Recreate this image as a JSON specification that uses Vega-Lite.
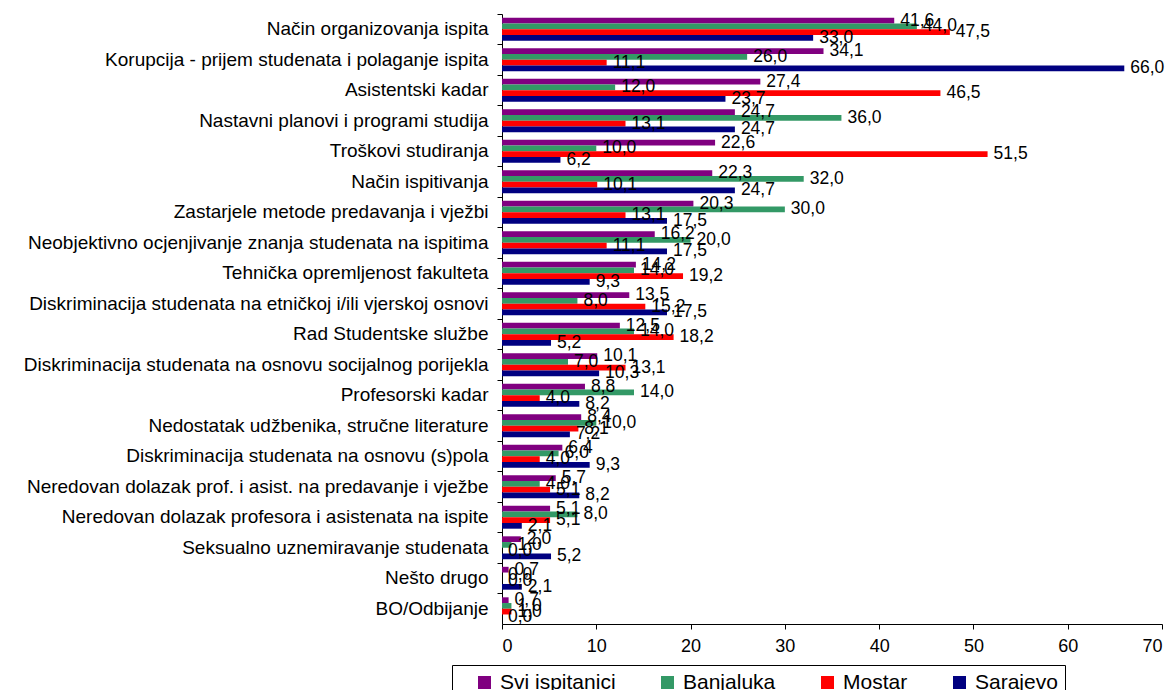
{
  "$schema": "https://vega.github.io/schema/vega-lite/v6.json",
  "autosize": "none",
  "width": 660,
  "height": 610,
  "padding": {"left": 502, "top": 14, "right": 13, "bottom": 66},
  "background": "white",
  "config": {
    "view": {"stroke": null},
    "font": "Liberation Sans",
    "locale": {"number": {"decimal": ",", "thousands": ".", "grouping": [3], "currency": ["", ""]}},
    "axis": {"grid": false, "domainColor": "black", "tickColor": "black", "labelColor": "black", "labelFont": "Liberation Sans", "title": null}
  },
  "data": {
    "values": [
      {"kategorija": "Način organizovanja ispita", "grupa": "Svi ispitanici", "vrijednost": 41.6},
      {"kategorija": "Način organizovanja ispita", "grupa": "Banjaluka", "vrijednost": 44.0},
      {"kategorija": "Način organizovanja ispita", "grupa": "Mostar", "vrijednost": 47.5},
      {"kategorija": "Način organizovanja ispita", "grupa": "Sarajevo", "vrijednost": 33.0},
      {"kategorija": "Korupcija - prijem studenata i polaganje ispita", "grupa": "Svi ispitanici", "vrijednost": 34.1},
      {"kategorija": "Korupcija - prijem studenata i polaganje ispita", "grupa": "Banjaluka", "vrijednost": 26.0},
      {"kategorija": "Korupcija - prijem studenata i polaganje ispita", "grupa": "Mostar", "vrijednost": 11.1},
      {"kategorija": "Korupcija - prijem studenata i polaganje ispita", "grupa": "Sarajevo", "vrijednost": 66.0},
      {"kategorija": "Asistentski kadar", "grupa": "Svi ispitanici", "vrijednost": 27.4},
      {"kategorija": "Asistentski kadar", "grupa": "Banjaluka", "vrijednost": 12.0},
      {"kategorija": "Asistentski kadar", "grupa": "Mostar", "vrijednost": 46.5},
      {"kategorija": "Asistentski kadar", "grupa": "Sarajevo", "vrijednost": 23.7},
      {"kategorija": "Nastavni planovi i programi studija", "grupa": "Svi ispitanici", "vrijednost": 24.7},
      {"kategorija": "Nastavni planovi i programi studija", "grupa": "Banjaluka", "vrijednost": 36.0},
      {"kategorija": "Nastavni planovi i programi studija", "grupa": "Mostar", "vrijednost": 13.1},
      {"kategorija": "Nastavni planovi i programi studija", "grupa": "Sarajevo", "vrijednost": 24.7},
      {"kategorija": "Troškovi studiranja", "grupa": "Svi ispitanici", "vrijednost": 22.6},
      {"kategorija": "Troškovi studiranja", "grupa": "Banjaluka", "vrijednost": 10.0},
      {"kategorija": "Troškovi studiranja", "grupa": "Mostar", "vrijednost": 51.5},
      {"kategorija": "Troškovi studiranja", "grupa": "Sarajevo", "vrijednost": 6.2},
      {"kategorija": "Način ispitivanja", "grupa": "Svi ispitanici", "vrijednost": 22.3},
      {"kategorija": "Način ispitivanja", "grupa": "Banjaluka", "vrijednost": 32.0},
      {"kategorija": "Način ispitivanja", "grupa": "Mostar", "vrijednost": 10.1},
      {"kategorija": "Način ispitivanja", "grupa": "Sarajevo", "vrijednost": 24.7},
      {"kategorija": "Zastarjele metode predavanja i vježbi", "grupa": "Svi ispitanici", "vrijednost": 20.3},
      {"kategorija": "Zastarjele metode predavanja i vježbi", "grupa": "Banjaluka", "vrijednost": 30.0},
      {"kategorija": "Zastarjele metode predavanja i vježbi", "grupa": "Mostar", "vrijednost": 13.1},
      {"kategorija": "Zastarjele metode predavanja i vježbi", "grupa": "Sarajevo", "vrijednost": 17.5},
      {"kategorija": "Neobjektivno ocjenjivanje znanja studenata na ispitima", "grupa": "Svi ispitanici", "vrijednost": 16.2},
      {"kategorija": "Neobjektivno ocjenjivanje znanja studenata na ispitima", "grupa": "Banjaluka", "vrijednost": 20.0},
      {"kategorija": "Neobjektivno ocjenjivanje znanja studenata na ispitima", "grupa": "Mostar", "vrijednost": 11.1},
      {"kategorija": "Neobjektivno ocjenjivanje znanja studenata na ispitima", "grupa": "Sarajevo", "vrijednost": 17.5},
      {"kategorija": "Tehnička opremljenost fakulteta", "grupa": "Svi ispitanici", "vrijednost": 14.2},
      {"kategorija": "Tehnička opremljenost fakulteta", "grupa": "Banjaluka", "vrijednost": 14.0},
      {"kategorija": "Tehnička opremljenost fakulteta", "grupa": "Mostar", "vrijednost": 19.2},
      {"kategorija": "Tehnička opremljenost fakulteta", "grupa": "Sarajevo", "vrijednost": 9.3},
      {"kategorija": "Diskriminacija studenata na etničkoj i/ili vjerskoj osnovi", "grupa": "Svi ispitanici", "vrijednost": 13.5},
      {"kategorija": "Diskriminacija studenata na etničkoj i/ili vjerskoj osnovi", "grupa": "Banjaluka", "vrijednost": 8.0},
      {"kategorija": "Diskriminacija studenata na etničkoj i/ili vjerskoj osnovi", "grupa": "Mostar", "vrijednost": 15.2},
      {"kategorija": "Diskriminacija studenata na etničkoj i/ili vjerskoj osnovi", "grupa": "Sarajevo", "vrijednost": 17.5},
      {"kategorija": "Rad Studentske službe", "grupa": "Svi ispitanici", "vrijednost": 12.5},
      {"kategorija": "Rad Studentske službe", "grupa": "Banjaluka", "vrijednost": 14.0},
      {"kategorija": "Rad Studentske službe", "grupa": "Mostar", "vrijednost": 18.2},
      {"kategorija": "Rad Studentske službe", "grupa": "Sarajevo", "vrijednost": 5.2},
      {"kategorija": "Diskriminacija studenata na osnovu socijalnog porijekla", "grupa": "Svi ispitanici", "vrijednost": 10.1},
      {"kategorija": "Diskriminacija studenata na osnovu socijalnog porijekla", "grupa": "Banjaluka", "vrijednost": 7.0},
      {"kategorija": "Diskriminacija studenata na osnovu socijalnog porijekla", "grupa": "Mostar", "vrijednost": 13.1},
      {"kategorija": "Diskriminacija studenata na osnovu socijalnog porijekla", "grupa": "Sarajevo", "vrijednost": 10.3},
      {"kategorija": "Profesorski kadar", "grupa": "Svi ispitanici", "vrijednost": 8.8},
      {"kategorija": "Profesorski kadar", "grupa": "Banjaluka", "vrijednost": 14.0},
      {"kategorija": "Profesorski kadar", "grupa": "Mostar", "vrijednost": 4.0},
      {"kategorija": "Profesorski kadar", "grupa": "Sarajevo", "vrijednost": 8.2},
      {"kategorija": "Nedostatak udžbenika, stručne literature", "grupa": "Svi ispitanici", "vrijednost": 8.4},
      {"kategorija": "Nedostatak udžbenika, stručne literature", "grupa": "Banjaluka", "vrijednost": 10.0},
      {"kategorija": "Nedostatak udžbenika, stručne literature", "grupa": "Mostar", "vrijednost": 8.1},
      {"kategorija": "Nedostatak udžbenika, stručne literature", "grupa": "Sarajevo", "vrijednost": 7.2},
      {"kategorija": "Diskriminacija studenata na osnovu (s)pola", "grupa": "Svi ispitanici", "vrijednost": 6.4},
      {"kategorija": "Diskriminacija studenata na osnovu (s)pola", "grupa": "Banjaluka", "vrijednost": 6.0},
      {"kategorija": "Diskriminacija studenata na osnovu (s)pola", "grupa": "Mostar", "vrijednost": 4.0},
      {"kategorija": "Diskriminacija studenata na osnovu (s)pola", "grupa": "Sarajevo", "vrijednost": 9.3},
      {"kategorija": "Neredovan dolazak prof. i asist. na predavanje i vježbe", "grupa": "Svi ispitanici", "vrijednost": 5.7},
      {"kategorija": "Neredovan dolazak prof. i asist. na predavanje i vježbe", "grupa": "Banjaluka", "vrijednost": 4.0},
      {"kategorija": "Neredovan dolazak prof. i asist. na predavanje i vježbe", "grupa": "Mostar", "vrijednost": 5.1},
      {"kategorija": "Neredovan dolazak prof. i asist. na predavanje i vježbe", "grupa": "Sarajevo", "vrijednost": 8.2},
      {"kategorija": "Neredovan dolazak profesora i asistenata na ispite", "grupa": "Svi ispitanici", "vrijednost": 5.1},
      {"kategorija": "Neredovan dolazak profesora i asistenata na ispite", "grupa": "Banjaluka", "vrijednost": 8.0},
      {"kategorija": "Neredovan dolazak profesora i asistenata na ispite", "grupa": "Mostar", "vrijednost": 5.1},
      {"kategorija": "Neredovan dolazak profesora i asistenata na ispite", "grupa": "Sarajevo", "vrijednost": 2.1},
      {"kategorija": "Seksualno uznemiravanje studenata", "grupa": "Svi ispitanici", "vrijednost": 2.0},
      {"kategorija": "Seksualno uznemiravanje studenata", "grupa": "Banjaluka", "vrijednost": 1.0},
      {"kategorija": "Seksualno uznemiravanje studenata", "grupa": "Mostar", "vrijednost": 0.0},
      {"kategorija": "Seksualno uznemiravanje studenata", "grupa": "Sarajevo", "vrijednost": 5.2},
      {"kategorija": "Nešto drugo", "grupa": "Svi ispitanici", "vrijednost": 0.7},
      {"kategorija": "Nešto drugo", "grupa": "Banjaluka", "vrijednost": 0.0},
      {"kategorija": "Nešto drugo", "grupa": "Mostar", "vrijednost": 0.0},
      {"kategorija": "Nešto drugo", "grupa": "Sarajevo", "vrijednost": 2.1},
      {"kategorija": "BO/Odbijanje", "grupa": "Svi ispitanici", "vrijednost": 0.7},
      {"kategorija": "BO/Odbijanje", "grupa": "Banjaluka", "vrijednost": 1.0},
      {"kategorija": "BO/Odbijanje", "grupa": "Mostar", "vrijednost": 1.0},
      {"kategorija": "BO/Odbijanje", "grupa": "Sarajevo", "vrijednost": 0.0}
    ]
  },
  "encoding": {
    "y": {
      "field": "kategorija", "type": "nominal", "sort": null,
      "scale": {"paddingInner": 0, "paddingOuter": 0},
      "axis": {"bandPosition": 0, "tickSize": 5, "labelPadding": 9, "labelFontSize": 19, "labelLimit": 600, "domainWidth": 1}
    },
    "yOffset": {
      "field": "grupa", "type": "nominal",
      "sort": ["Svi ispitanici", "Banjaluka", "Mostar", "Sarajevo"],
      "scale": {"paddingInner": 0, "paddingOuter": 0.667}
    },
    "x": {
      "field": "vrijednost", "type": "quantitative",
      "scale": {"domain": [0, 70], "nice": false, "zero": true},
      "axis": {"values": [0, 10, 20, 30, 40, 50, 60, 70], "format": "d", "tickSize": 5, "labelPadding": 8, "labelFontSize": 18}
    }
  },
  "layer": [
    {
      "mark": {"type": "bar", "cornerRadius": 0},
      "encoding": {
        "color": {
          "field": "grupa", "type": "nominal",
          "sort": ["Svi ispitanici", "Banjaluka", "Mostar", "Sarajevo"],
          "scale": {"domain": ["Svi ispitanici", "Banjaluka", "Mostar", "Sarajevo"], "range": ["#800080", "#339966", "#FF0000", "#000080"]},
          "legend": {
            "orient": "none", "legendX": -50, "legendY": 651,
            "direction": "horizontal", "columns": 4, "gridAlign": "none", "columnPadding": 41,
            "title": " ", "titleOrient": "left", "titlePadding": 15, "titleFontSize": 2,
            "symbolType": "square", "symbolSize": 169, "symbolStrokeWidth": 0,
            "labelFontSize": 21, "labelColor": "black", "labelFont": "Liberation Sans", "labelOffset": 5, "labelLimit": 300,
            "padding": 7, "strokeColor": "black", "fillColor": "white"
          }
        }
      }
    },
    {
      "mark": {"type": "text", "align": "left", "baseline": "middle", "dx": 6, "fontSize": 17.5, "color": "black", "font": "Liberation Sans"},
      "encoding": {
        "text": {"field": "vrijednost", "type": "quantitative", "format": ".1f"}
      }
    }
  ]
}
